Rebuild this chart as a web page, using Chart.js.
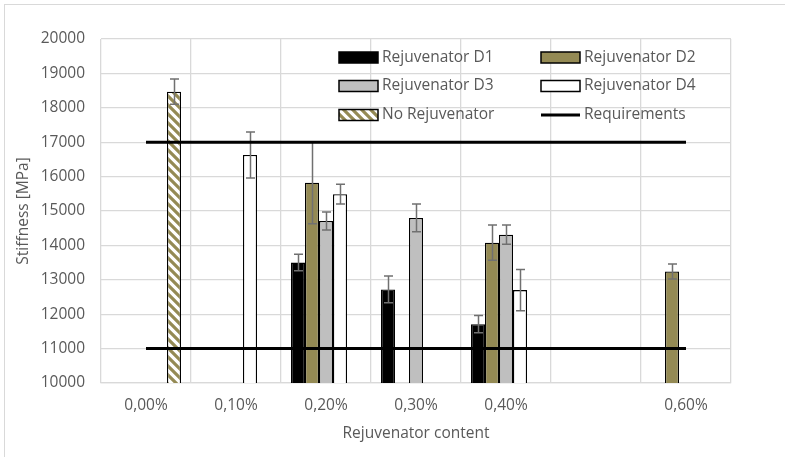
<!DOCTYPE html>
<html>
<head>
<meta charset="utf-8">
<script src="https://cdn.jsdelivr.net/npm/chart.js@4.4.1/dist/chart.umd.min.js"></script>
<style>
    body { margin: 0; background: #fff; }
    #wrap { width: 785px; height: 457px; position: relative; }
</style>
</head>
<body>
<div id="wrap"><canvas id="stiffChart"></canvas></div>
<script>
// categories (0,50% has no label in the original)
var contentLabels = ['0,00%', '0,10%', '0,20%', '0,30%', '0,40%', '', '0,60%'];

var d1Values = [null, null, 13500, 12720, 11710, null, null];
var d1Errors = [null, null, 240, 390, 250, null, null];
var d2Values = [null, null, 15820, null, 14080, null, 13240];
var d2Errors = [null, null, 1190, null, 510, null, 220];
var d3Values = [null, null, 14710, 14800, 14310, null, null];
var d3Errors = [null, null, 260, 400, 280, null, null];
var d4Values = [null, 16630, 15490, null, 12700, null, null];
var d4Errors = [null, 670, 290, null, 600, null, null];
var noRejValues = [18470, null, null, null, null, null, null];
var noRejErrors = [370, null, null, null, null, null, null];

var upperRequirement = [17000, 17000, 17000, 17000, 17000, 17000, 17000];
var lowerRequirement = [11000, 11000, 11000, 11000, 11000, 11000, 11000];

var olive = '#948A54';
var textGray = '#595959';
var gridGray = '#D9D9D9';
var fontFamily = "'Open Sans', sans-serif";
var fontSize = 15.5;

function stripes(ctx) {
    var c = document.createElement('canvas');
    c.width = 9; c.height = 9;
    var g = c.getContext('2d');
    g.fillStyle = '#fff';
    g.fillRect(0, 0, 9, 9);
    g.strokeStyle = olive;
    g.lineWidth = 3.2;
    g.beginPath();
    g.moveTo(-2, -2); g.lineTo(11, 11);
    g.moveTo(-2, 7); g.lineTo(2, 11);
    g.moveTo(7, -2); g.lineTo(11, 2);
    g.stroke();
    return ctx.createPattern(c, 'repeat');
}

var canvas = document.getElementById('stiffChart');
var ctx = canvas.getContext('2d');
var hatch = stripes(ctx);

// background + outer chart border
var frame = {
    id: 'frame',
    beforeDraw: function(chart) {
        var c = chart.ctx;
        c.save();
        c.fillStyle = '#fff';
        c.fillRect(0, 0, chart.width, chart.height);
        c.strokeStyle = gridGray;
        c.lineWidth = 1;
        c.strokeRect(4.5, 4.5, 900, 600);
        c.restore();
    }
};

// error bars drawn right after each bar dataset (under the requirement lines)
var errorBars = {
    id: 'errorBars',
    afterDatasetDraw: function(chart, args) {
        var ds = chart.data.datasets[args.index];
        if (!ds.errors) return;
        var y = chart.scales.y;
        var c = chart.ctx;
        c.save();
        c.strokeStyle = '#707070';
        c.lineWidth = 1.5;
        args.meta.data.forEach(function(bar, i) {
            var v = ds.data[i], e = ds.errors[i];
            if (v === null || e === null) return;
            var x = Math.round(bar.x) + 0.5;
            var top = y.getPixelForValue(v + e);
            var bot = y.getPixelForValue(v - e);
            c.beginPath();
            c.moveTo(x, top); c.lineTo(x, bot);
            c.moveTo(x - 4.5, top); c.lineTo(x + 4.5, top);
            c.moveTo(x - 4.5, bot); c.lineTo(x + 4.5, bot);
            c.stroke();
        });
        c.restore();
    }
};

// legend inside the plot, two columns
var innerLegend = {
    id: 'innerLegend',
    afterDraw: function(chart) {
        var c = chart.ctx;
        var ds = chart.data.datasets;
        var items = [
            [ds[2], 339, 57.5], [ds[3], 541, 57.5],
            [ds[4], 339, 86], [ds[5], 541, 86],
            [ds[6], 339, 115], [ds[0], 541, 115]
        ];
        c.save();
        c.font = fontSize + 'px ' + fontFamily;
        c.textBaseline = 'middle';
        items.forEach(function(it) {
            var d = it[0], x = it[1], yc = it[2];
            if (d.type === 'line') {
                c.strokeStyle = d.borderColor;
                c.lineWidth = 3;
                c.beginPath();
                c.moveTo(x, yc); c.lineTo(x + 39, yc);
                c.stroke();
            } else {
                c.fillStyle = d.backgroundColor;
                c.fillRect(x, yc - 5.5, 39, 11);
                c.strokeStyle = '#000';
                c.lineWidth = 1.5;
                c.strokeRect(x, yc - 5.5, 39, 11);
            }
            c.fillStyle = textGray;
            c.fillText(d.label, x + 43, yc);
        });
        c.restore();
    }
};

function barSet(label, values, errors, fill) {
    return {
        type: 'bar',
        label: label,
        data: values,
        errors: errors,
        backgroundColor: fill,
        borderColor: '#000',
        borderWidth: 1.3,
        order: 1,
        categoryPercentage: 70 / 90,
        barPercentage: 1
    };
}

function reqSet(label, values) {
    return {
        type: 'line',
        label: label,
        data: values,
        borderColor: '#000',
        borderWidth: 3,
        pointRadius: 0,
        fill: false,
        order: 0
    };
}

var stiffChart = new Chart(ctx, {
    data: {
        labels: contentLabels,
        datasets: [
            reqSet('Requirements', upperRequirement),
            reqSet('Requirements', lowerRequirement),
            barSet('Rejuvenator D1', d1Values, d1Errors, '#000000'),
            barSet('Rejuvenator D2', d2Values, d2Errors, olive),
            barSet('Rejuvenator D3', d3Values, d3Errors, '#BFBFBF'),
            barSet('Rejuvenator D4', d4Values, d4Errors, '#FFFFFF'),
            barSet('No Rejuvenator', noRejValues, noRejErrors, hatch)
        ]
    },
    options: {
        responsive: true,
        maintainAspectRatio: false,
        animation: false,
        layout: { padding: { left: 0, top: 39, right: 54, bottom: 0 } },
        plugins: {
            legend: { display: false },
            tooltip: { enabled: false }
        },
        scales: {
            x: {
                type: 'category',
                offset: true,
                grid: { offset: true, color: gridGray, lineWidth: 1.3, drawTicks: false },
                border: { color: gridGray, width: 1.3 },
                ticks: { color: textGray, font: { family: fontFamily, size: fontSize }, padding: 13, maxRotation: 0, autoSkip: false },
                title: { display: true, text: 'Rejuvenator content', color: textGray, font: { family: fontFamily, size: fontSize }, padding: { top: 0, bottom: 14 } },
                afterFit: function(scale) { scale.height = 74; }
            },
            y: {
                min: 10000,
                max: 20000,
                grid: { color: gridGray, lineWidth: 1.3, drawTicks: false },
                border: { display: false },
                ticks: {
                    stepSize: 1000,
                    color: textGray,
                    font: { family: fontFamily, size: fontSize },
                    padding: 16,
                    callback: function(v) { return String(v); }
                },
                title: { display: true, text: 'Stiffness [MPa]', color: textGray, font: { family: fontFamily, size: fontSize }, padding: { top: 14, bottom: 0 } },
                afterFit: function(scale) { scale.width = 101; }
            }
        }
    },
    plugins: [frame, errorBars, innerLegend]
});
</script>
</body>
</html>
